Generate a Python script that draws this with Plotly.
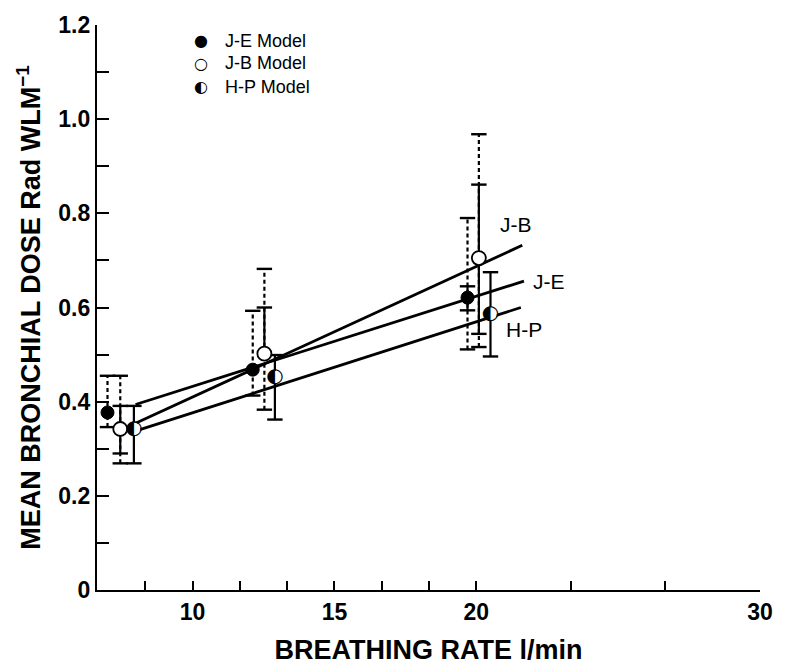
import plotly.graph_objects as go

# ---------------- data ----------------
je_x = [7.00, 12.12, 19.69]
je_y = [0.377, 0.468, 0.621]
jb_x = [7.45, 12.53, 20.09]
jb_y = [0.342, 0.502, 0.705]
hp_x = [7.93, 12.90, 20.50]
hp_y = [0.342, 0.452, 0.587]

# dashed (outer) error ranges
je_dash_lo = [0.346, 0.413, 0.511]
je_dash_hi = [0.455, 0.593, 0.790]
jb_dash_lo = [0.269, 0.383, 0.516]
jb_dash_hi = [0.455, 0.682, 0.968]

# solid error ranges
je_sol_lo = [None, None, 0.594]
je_sol_hi = [None, None, 0.645]
jb_sol_lo = [0.290, None, 0.544]
jb_sol_hi = [0.391, 0.600, 0.861]
hp_sol_lo = [0.269, 0.362, 0.496]
hp_sol_hi = [0.391, 0.499, 0.675]

# fitted lines (end points)
jb_fit_x = [7.95, 21.62]
jb_fit_y = [0.353, 0.732]
je_fit_x = [7.99, 21.68]
je_fit_y = [0.394, 0.656]
hp_fit_x = [8.06, 21.57]
hp_fit_y = [0.339, 0.600]

# line labels
lab_text = ["J-B", "J-E", "H-P"]
lab_x = [21.39, 22.55, 21.68]
lab_y = [0.776, 0.656, 0.553]

# axis ticks
x_tickvals = [8.333, 10, 11.667, 13.333, 15, 16.667, 18.333, 20, 23.333, 26.667, 30]
x_ticktext = ["", "10", "", "", "15", "", "", "20", "", "", "30"]
y_tickvals = [0, 0.1, 0.2, 0.3, 0.4, 0.5, 0.6, 0.7, 0.8, 0.9, 1.0, 1.1, 1.2]
y_ticktext = ["0", "", "0.2", "", "0.4", "", "0.6", "", "0.8", "", "1.0", "", "1.2"]

legend_names = ["J-E Model", "J-B Model", "H-P Model"]
legend_glyphs = ["\u25CF", "\u25CB", "\u25D0"]

FONT = "Liberation Sans, Arial, Helvetica, sans-serif"

fig = go.Figure()

# fitted lines
for fx, fy in [(jb_fit_x, jb_fit_y), (je_fit_x, je_fit_y), (hp_fit_x, hp_fit_y)]:
    fig.add_trace(go.Scatter(x=fx, y=fy, mode="lines",
                             line=dict(color="black", width=2.8),
                             showlegend=False, hoverinfo="skip"))


def segments(xs, ys, lo, hi):
    sx, sy, cx, cy = [], [], [], []
    for x, y, l, h in zip(xs, ys, lo, hi):
        if l is None and h is None:
            continue
        a = l if l is not None else y
        b = h if h is not None else y
        sx += [x, x, None]
        sy += [a, b, None]
        if l is not None:
            cx.append(x); cy.append(l)
        if h is not None:
            cx.append(x); cy.append(h)
    return sx, sy, cx, cy


def add_bars(xs, ys, lo, hi, dashed):
    sx, sy, cx, cy = segments(xs, ys, lo, hi)
    fig.add_trace(go.Scatter(x=sx, y=sy, mode="lines",
                             line=dict(color="black", width=2.2,
                                       dash="4px,3px" if dashed else "solid"),
                             showlegend=False, hoverinfo="skip"))
    fig.add_trace(go.Scatter(x=cx, y=cy, mode="markers",
                             marker=dict(symbol="line-ew", size=11, color="black",
                                         line=dict(color="black", width=2.4)),
                             showlegend=False, hoverinfo="skip"))


add_bars(je_x, je_y, je_dash_lo, je_dash_hi, True)
add_bars(jb_x, jb_y, jb_dash_lo, jb_dash_hi, True)
add_bars(je_x, je_y, je_sol_lo, je_sol_hi, False)
add_bars(jb_x, jb_y, jb_sol_lo, jb_sol_hi, False)
add_bars(hp_x, hp_y, hp_sol_lo, hp_sol_hi, False)

# points
fig.add_trace(go.Scatter(x=je_x, y=je_y, mode="markers", name="J-E Model",
                         marker=dict(symbol="circle", size=13, color="black",
                                     line=dict(color="black", width=1)),
                         showlegend=False))
fig.add_trace(go.Scatter(x=jb_x, y=jb_y, mode="markers", name="J-B Model",
                         marker=dict(symbol="circle", size=14, color="white",
                                     line=dict(color="black", width=1.8)),
                         showlegend=False))
fig.add_trace(go.Scatter(x=hp_x, y=hp_y, mode="markers", name="H-P Model",
                         marker=dict(symbol="circle", size=13, color="white",
                                     line=dict(color="black", width=0)),
                         showlegend=False, hoverinfo="skip"))
fig.add_trace(go.Scatter(x=hp_x, y=hp_y, mode="text", text=["\u25D0"] * len(hp_x),
                         textposition="middle center",
                         textfont=dict(family="DejaVu Sans", size=20, color="black"),
                         showlegend=False))

# line labels
for t, x, y in zip(lab_text, lab_x, lab_y):
    fig.add_annotation(x=x, y=y, text=t, showarrow=False, xanchor="center", yanchor="middle",
                       font=dict(family=FONT, size=21, color="black"))

# hand-made legend
leg_y = [0.972, 0.932, 0.891]
for g, n, y in zip(legend_glyphs, legend_names, leg_y):
    fig.add_annotation(xref="paper", yref="paper", x=0.1565, y=y, text=g, showarrow=False,
                       xanchor="center", yanchor="middle",
                       font=dict(family="DejaVu Sans", size=16, color="black"))
    fig.add_annotation(xref="paper", yref="paper", x=0.19, y=y, text=n, showarrow=False,
                       xanchor="left", yanchor="middle",
                       font=dict(family=FONT, size=18, color="black"))

fig.update_xaxes(range=[6.63, 30.0], showline=True, linecolor="black", linewidth=2.2,
                 ticks="inside", ticklen=9, tickwidth=2, tickcolor="black",
                 tickvals=x_tickvals, ticktext=x_ticktext, showgrid=False, zeroline=False,
                 tickfont=dict(family=FONT, size=23, color="black", weight="bold"),
                 title=dict(text="<b>BREATHING RATE l/min</b>", standoff=16,
                            font=dict(family=FONT, size=27, color="black")))
fig.update_yaxes(range=[0, 1.2], showline=True, linecolor="black", linewidth=2.2,
                 ticks="inside", ticklen=12, tickwidth=2, tickcolor="black",
                 tickvals=y_tickvals, ticktext=y_ticktext, showgrid=False, zeroline=False,
                 tickfont=dict(family=FONT, size=23, color="black", weight="bold"),
                 title=dict(text="<b>MEAN BRONCHIAL DOSE Rad WLM<sup>\u22121</sup></b>", standoff=10,
                            font=dict(family=FONT, size=27, color="black")))

fig.update_layout(width=785, height=672, margin=dict(l=97, r=17, t=16, b=80),
                  plot_bgcolor="white", paper_bgcolor="white", showlegend=False)

fig.write_html("out.html")
